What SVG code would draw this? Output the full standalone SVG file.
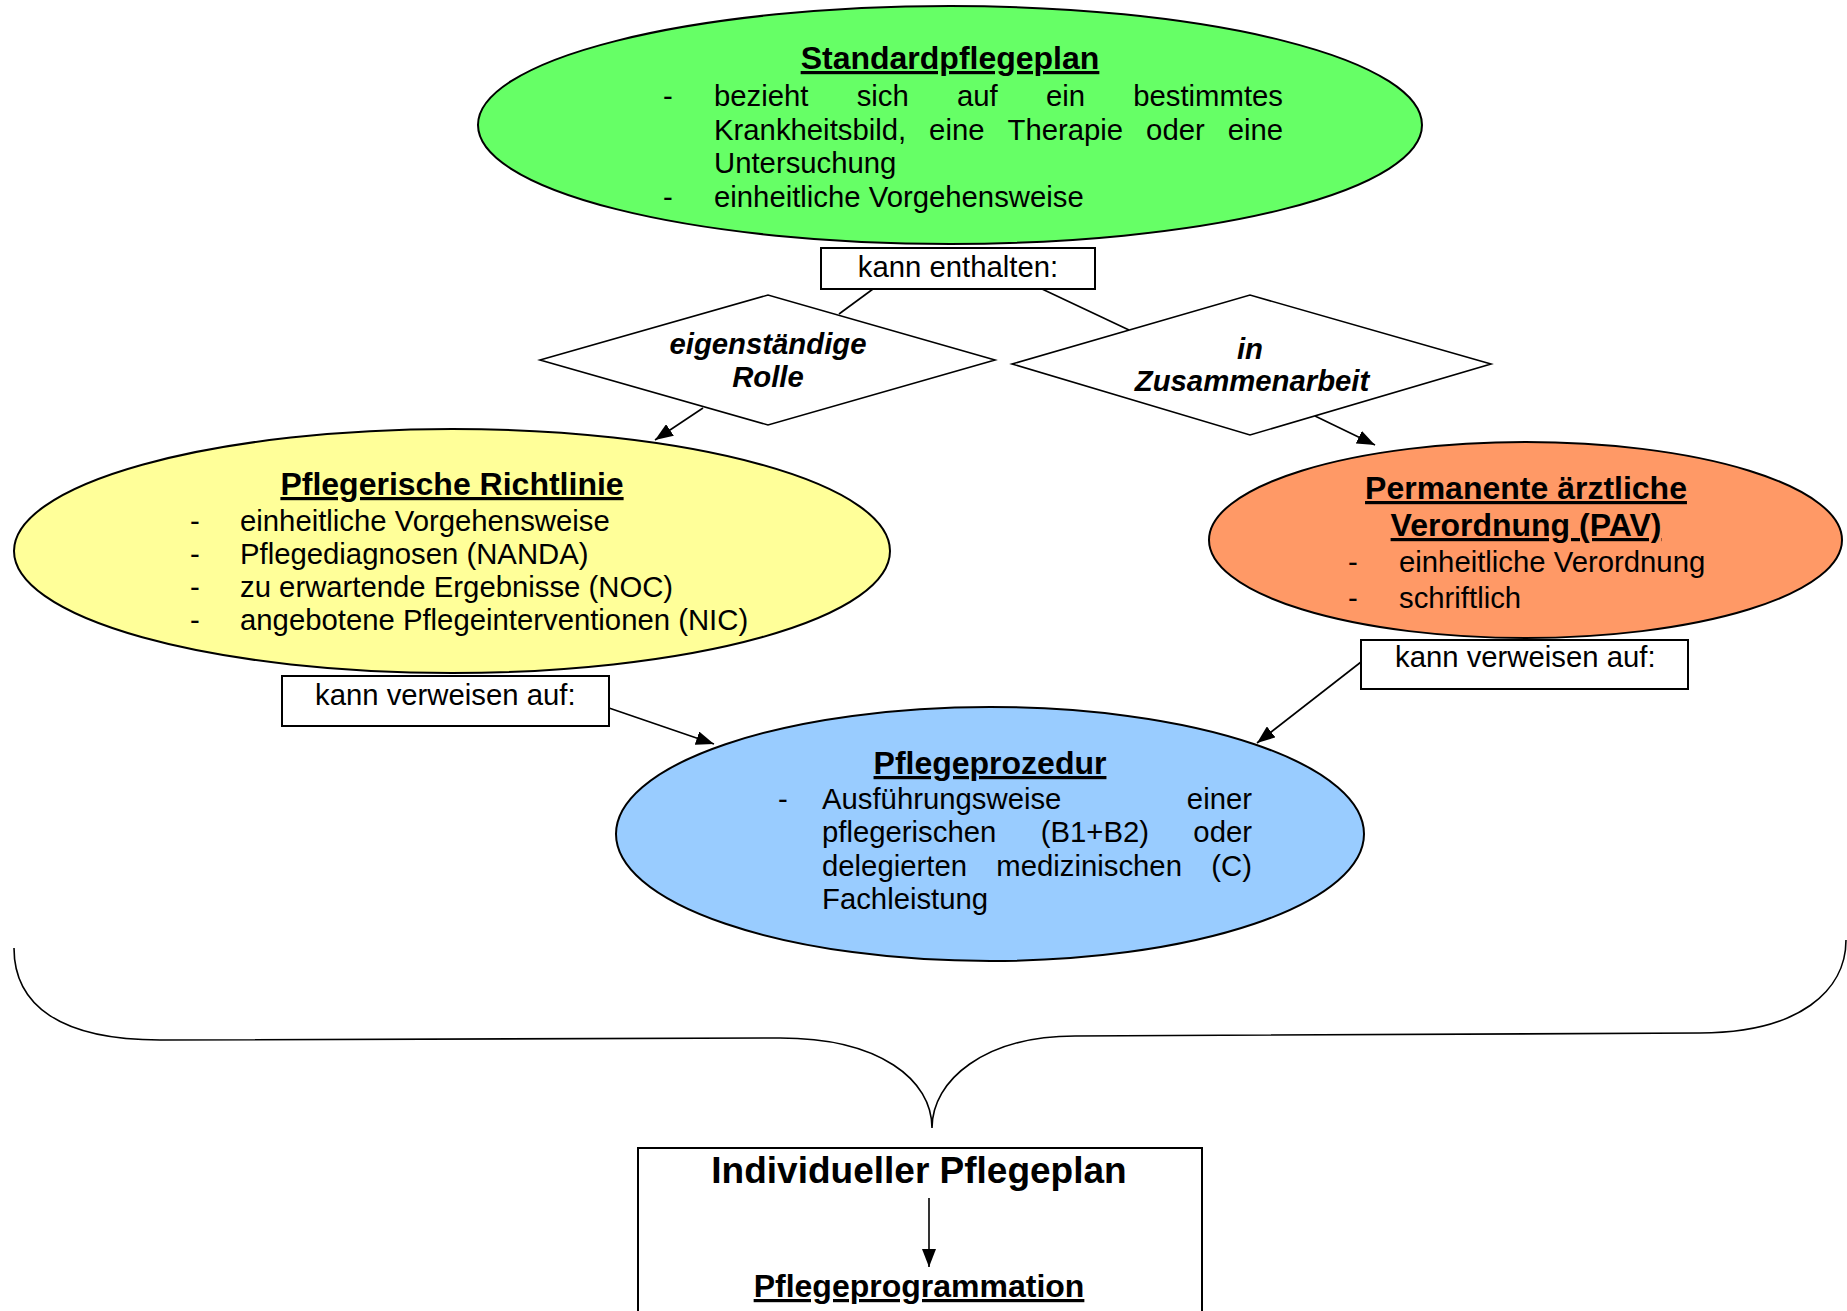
<svg xmlns="http://www.w3.org/2000/svg" width="1847" height="1311" viewBox="0 0 1847 1311">
<style>
text{font-family:"Liberation Sans",Arial,sans-serif;fill:#000}
.t{font-size:32px;font-weight:bold;text-decoration:underline;text-anchor:middle}
.b{font-size:29.3px}
.e{text-anchor:end}
.d{font-size:29.3px;font-weight:bold;font-style:italic;text-anchor:middle}
.sh{stroke:#000;stroke-width:2}
.ln{stroke:#000;stroke-width:1.6;fill:none}
</style>
<defs>
<marker id="ah" markerUnits="userSpaceOnUse" markerWidth="18" markerHeight="14" refX="18" refY="7" orient="auto">
<path d="M0,0 L18,7 L0,14 z" fill="#000"/>
</marker>
</defs>
<rect width="1847" height="1311" fill="#fff"/>

<g id="standardpflegeplan">
<ellipse class="sh" cx="950" cy="125" rx="472" ry="119" fill="#66FF66"/>
<text class="t" x="950" y="69">Standardpflegeplan</text>
<text class="b" x="663" y="106">-</text>
<text class="b" y="106"><tspan x="714">bezieht</tspan><tspan x="856.7">sich</tspan><tspan x="957">auf</tspan><tspan x="1045.9">ein</tspan><tspan x="1133.2">bestimmtes</tspan></text>
<text class="b" y="139.5"><tspan x="714">Krankheitsbild,</tspan><tspan x="929.1">eine</tspan><tspan x="1007.5">Therapie</tspan><tspan x="1146.1">oder</tspan><tspan x="1227.7">eine</tspan></text>
<text class="b" x="714" y="173">Untersuchung</text>
<text class="b" x="663" y="206.5">-</text>
<text class="b" x="714" y="206.5">einheitliche Vorgehensweise</text>
</g>

<g id="kann-enthalten">
<rect class="sh" x="821" y="248" width="274" height="41" fill="#fff"/>
<text class="b" x="958" y="277" text-anchor="middle">kann enthalten:</text>
</g>

<g id="eigenstaendige-rolle">
<polygon points="540,360 768,295 995,360 768,425" fill="#fff" stroke="#000" stroke-width="1.6"/>
<text class="d" x="768" y="354">eigenständige</text>
<text class="d" x="768" y="387">Rolle</text>
</g>

<g id="in-zusammenarbeit">
<polygon points="1012,364 1250,295 1491,364 1250,435" fill="#fff" stroke="#000" stroke-width="1.6"/>
<text class="d" x="1250" y="359">in</text>
<text class="d" x="1252" y="391">Zusammenarbeit</text>
</g>

<g id="pflegerische-richtlinie">
<ellipse class="sh" cx="452" cy="551" rx="438" ry="122" fill="#FFFF99"/>
<text class="t" x="452" y="495">Pflegerische Richtlinie</text>
<text class="b" x="190" y="531">-</text>
<text class="b" x="240" y="531">einheitliche Vorgehensweise</text>
<text class="b" x="190" y="564">-</text>
<text class="b" x="240" y="564">Pflegediagnosen (NANDA)</text>
<text class="b" x="190" y="597">-</text>
<text class="b" x="240" y="597">zu erwartende Ergebnisse (NOC)</text>
<text class="b" x="190" y="630">-</text>
<text class="b" x="240" y="630">angebotene Pflegeinterventionen (NIC)</text>
</g>

<g id="permanente-aerztliche-verordnung">
<ellipse class="sh" cx="1525.5" cy="540" rx="316.5" ry="98" fill="#FF9966"/>
<text class="t" x="1526" y="499">Permanente ärztliche</text>
<text class="t" x="1526" y="536">Verordnung (PAV)</text>
<text class="b" x="1348" y="572">-</text>
<text class="b" x="1399" y="572">einheitliche Verordnung</text>
<text class="b" x="1348" y="608">-</text>
<text class="b" x="1399" y="608">schriftlich</text>
</g>

<g id="kann-verweisen-links">
<rect class="sh" x="282" y="676" width="327" height="50" fill="#fff"/>
<text class="b" x="315" y="705">kann verweisen auf:</text>
</g>

<g id="kann-verweisen-rechts">
<rect class="sh" x="1361" y="640" width="327" height="49" fill="#fff"/>
<text class="b" x="1395" y="667">kann verweisen auf:</text>
</g>

<g id="pflegeprozedur">
<ellipse class="sh" cx="990" cy="834" rx="374" ry="127" fill="#99CCFF"/>
<text class="t" x="990" y="774">Pflegeprozedur</text>
<text class="b" x="778" y="809">-</text>
<text class="b" y="809"><tspan x="822">Ausführungsweise</tspan></text>
<text class="b e" x="1252" y="809">einer</text>
<text class="b" y="842"><tspan x="822">pflegerischen</tspan><tspan x="1040.7">(B1+B2)</tspan></text>
<text class="b e" x="1252" y="842">oder</text>
<text class="b" y="876"><tspan x="822">delegierten</tspan><tspan x="996.3">medizinischen</tspan></text>
<text class="b e" x="1252" y="876">(C)</text>
<text class="b" x="822" y="909">Fachleistung</text>
</g>

<g id="brace">
<path class="ln" d="M14,948 C14,1005 60,1040 160,1040 L780,1038 C880,1038 932,1080 932,1128 C932,1080 985,1036 1075,1036 L1700,1033 C1800,1033 1846,990 1846,940"/>
</g>

<g id="individueller-pflegeplan">
<rect class="sh" x="638" y="1148" width="564" height="200" fill="#fff"/>
<text x="919" y="1183" font-size="37" font-weight="bold" text-anchor="middle">Individueller Pflegeplan</text>
<text class="t" x="919" y="1297">Pflegeprogrammation</text>
</g>

<g id="connectors">
<line class="ln" x1="873" y1="289" x2="839" y2="314"/>
<line class="ln" x1="1042" y1="289" x2="1129" y2="330"/>
<line class="ln" x1="703" y1="408" x2="655" y2="440" marker-end="url(#ah)"/>
<line class="ln" x1="1315" y1="416" x2="1375" y2="445" marker-end="url(#ah)"/>
<line class="ln" x1="609" y1="708" x2="714" y2="744" marker-end="url(#ah)"/>
<line class="ln" x1="1361" y1="662" x2="1257" y2="743" marker-end="url(#ah)"/>
<line class="ln" x1="929" y1="1198" x2="929" y2="1267" marker-end="url(#ah)"/>
</g>
</svg>
